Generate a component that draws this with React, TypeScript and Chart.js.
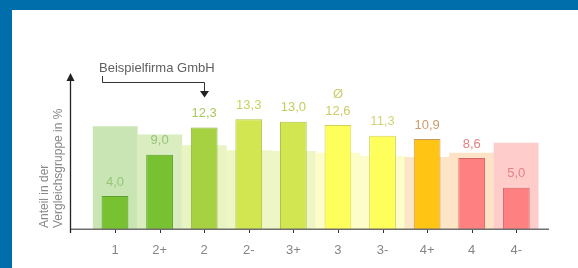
import React, { useEffect, useRef } from "react";
import { Chart, registerables } from "chart.js";

Chart.register(...registerables);

const categories = ["1", "2+", "2", "2-", "3+", "3", "3-", "4+", "4", "4-"];
const companyValues = [4.0, 9.0, 12.3, 13.3, 13.0, 12.6, 11.3, 10.9, 8.6, 5.0];
const groupValues = [12.4, 11.4, 10.1, 9.5, 9.4, 9.2, 8.8, 8.7, 9.2, 10.4];
const valueLabels = ["4,0", "9,0", "12,3", "13,3", "13,0", "12,6", "11,3", "10,9", "8,6", "5,0"];
const averageIndex = 5;
const companyIndex = 2;
const barColors = ["#78c232", "#78c232", "#a6d242", "#d2e652", "#d2e652", "#ffff5c", "#ffff5c", "#ffc414", "#ff8080", "#ff8080"];
const barBorders = ["#5e9e2c", "#5e9e2c", "#88b034", "#b2c244", "#b2c244", "#d2d25a", "#d2d25a", "#c8985e", "#d06868", "#d06868"];
const bgColors = ["#c9e5b3", "#d9edc0", "#e8f4c2", "#eef6c6", "#eef6c6", "#fdfdc9", "#fdfdc9", "#fde6c8", "#fee3c6", "#ffcccc"];
const labelColors = ["#96c57a", "#96c57a", "#a9c85c", "#c6d35e", "#c4cd60", "#cccc6a", "#d2d27a", "#cc9c6c", "#e48282", "#e48282"];

const FONT = "'Liberation Sans', Arial, sans-serif";

const overlay = {
  id: "overlay",
  beforeDraw(chart: any) {
    const ctx = chart.ctx;
    ctx.save();
    ctx.fillStyle = "#ffffff";
    ctx.fillRect(0, 0, chart.width, chart.height);
    ctx.restore();
  },
  afterDraw(chart: any) {
    const ctx = chart.ctx;
    const area = chart.chartArea;
    const x = chart.scales.x;
    const meta = chart.getDatasetMeta(0);
    ctx.save();
    // blue frame
    ctx.fillStyle = "#006eaa";
    ctx.fillRect(0, 0, chart.width, 10);
    ctx.fillRect(0, 0, 12, chart.height);

    const base = area.bottom;
    // x axis line
    ctx.strokeStyle = "#6f6f6f";
    ctx.lineWidth = 1.6;
    ctx.beginPath();
    ctx.moveTo(70, base + 0.2);
    ctx.lineTo(549, base + 0.2);
    ctx.stroke();
    // tick marks
    ctx.strokeStyle = "#333";
    ctx.lineWidth = 1;
    for (let i = 0; i < categories.length; i++) {
      const px = Math.round(x.getPixelForValue(i)) + 0.5;
      ctx.beginPath();
      ctx.moveTo(px, base + 1);
      ctx.lineTo(px, base + 4);
      ctx.stroke();
    }
    // y axis with arrow
    ctx.strokeStyle = "#222";
    ctx.lineWidth = 1.3;
    ctx.beginPath();
    ctx.moveTo(70.5, base + 4);
    ctx.lineTo(70.5, 80);
    ctx.stroke();
    ctx.fillStyle = "#222";
    ctx.beginPath();
    ctx.moveTo(70.5, 73);
    ctx.lineTo(66.5, 81);
    ctx.lineTo(74.5, 81);
    ctx.closePath();
    ctx.fill();

    // y axis title
    ctx.save();
    ctx.translate(45, base - 1);
    ctx.rotate(-Math.PI / 2);
    ctx.fillStyle = "#888";
    ctx.font = `12px ${FONT}`;
    ctx.textAlign = "left";
    ctx.textBaseline = "middle";
    ctx.fillText("Anteil in der", 0, 0);
    ctx.fillText("Vergleichsgruppe in %", 0, 14);
    ctx.restore();

    // value labels
    ctx.font = `13px ${FONT}`;
    ctx.textAlign = "center";
    ctx.textBaseline = "middle";
    meta.data.forEach((el: any, i: number) => {
      ctx.fillStyle = labelColors[i];
      ctx.fillText(valueLabels[i], el.x, el.y - 14);
      if (i === averageIndex) ctx.fillText("\u00d8", el.x, el.y - 30.5);
    });

    // company annotation
    const cx = Math.round(meta.data[companyIndex].x) + 0.5;
    ctx.fillStyle = "#606060";
    ctx.font = `13px ${FONT}`;
    ctx.textAlign = "left";
    ctx.fillText("Beispielfirma GmbH", 99, 68);
    ctx.strokeStyle = "#333";
    ctx.lineWidth = 1;
    ctx.beginPath();
    ctx.moveTo(102.5, 76);
    ctx.lineTo(102.5, 82.5);
    ctx.lineTo(cx, 82.5);
    ctx.lineTo(cx, 92);
    ctx.stroke();
    ctx.fillStyle = "#222";
    ctx.beginPath();
    ctx.moveTo(cx, 97.5);
    ctx.lineTo(cx - 4.5, 91);
    ctx.lineTo(cx + 4.5, 91);
    ctx.closePath();
    ctx.fill();
    ctx.restore();
  },
};

export default function App() {
  const ref = useRef<HTMLCanvasElement | null>(null);
  useEffect(() => {
    document.body.style.margin = "0";
    const canvas = ref.current;
    if (!canvas) return;
    const chart = new Chart(canvas, {
      type: "bar",
      data: {
        labels: categories,
        datasets: [
          {
            label: "Beispielfirma GmbH",
            data: companyValues,
            backgroundColor: barColors,
            borderColor: barBorders,
            borderWidth: 1,
            barPercentage: 0.6,
            categoryPercentage: 1,
            grouped: false,
            order: 1,
          },
          {
            label: "Vergleichsgruppe",
            data: groupValues,
            backgroundColor: bgColors,
            borderWidth: 0,
            barPercentage: 1,
            categoryPercentage: 1,
            grouped: false,
            order: 2,
          },
        ],
      },
      options: {
        responsive: false,
        animation: false,
        devicePixelRatio: 1,
        layout: { padding: { left: 92.7, right: 39.4, top: 80.5, bottom: 0 } },
        plugins: { legend: { display: false }, tooltip: { enabled: false } },
        scales: {
          x: {
            grid: { display: false },
            border: { display: false },
            ticks: { color: "#858585", font: { family: FONT, size: 13 }, padding: 6 },
            afterFit: (s: any) => {
              s.height = 39;
            },
          },
          y: { display: false, min: 0, max: 18 },
        },
      },
      plugins: [overlay],
    });
    return () => chart.destroy();
  }, []);
  return <canvas ref={ref} width={578} height={268} style={{ display: "block" }} />;
}
